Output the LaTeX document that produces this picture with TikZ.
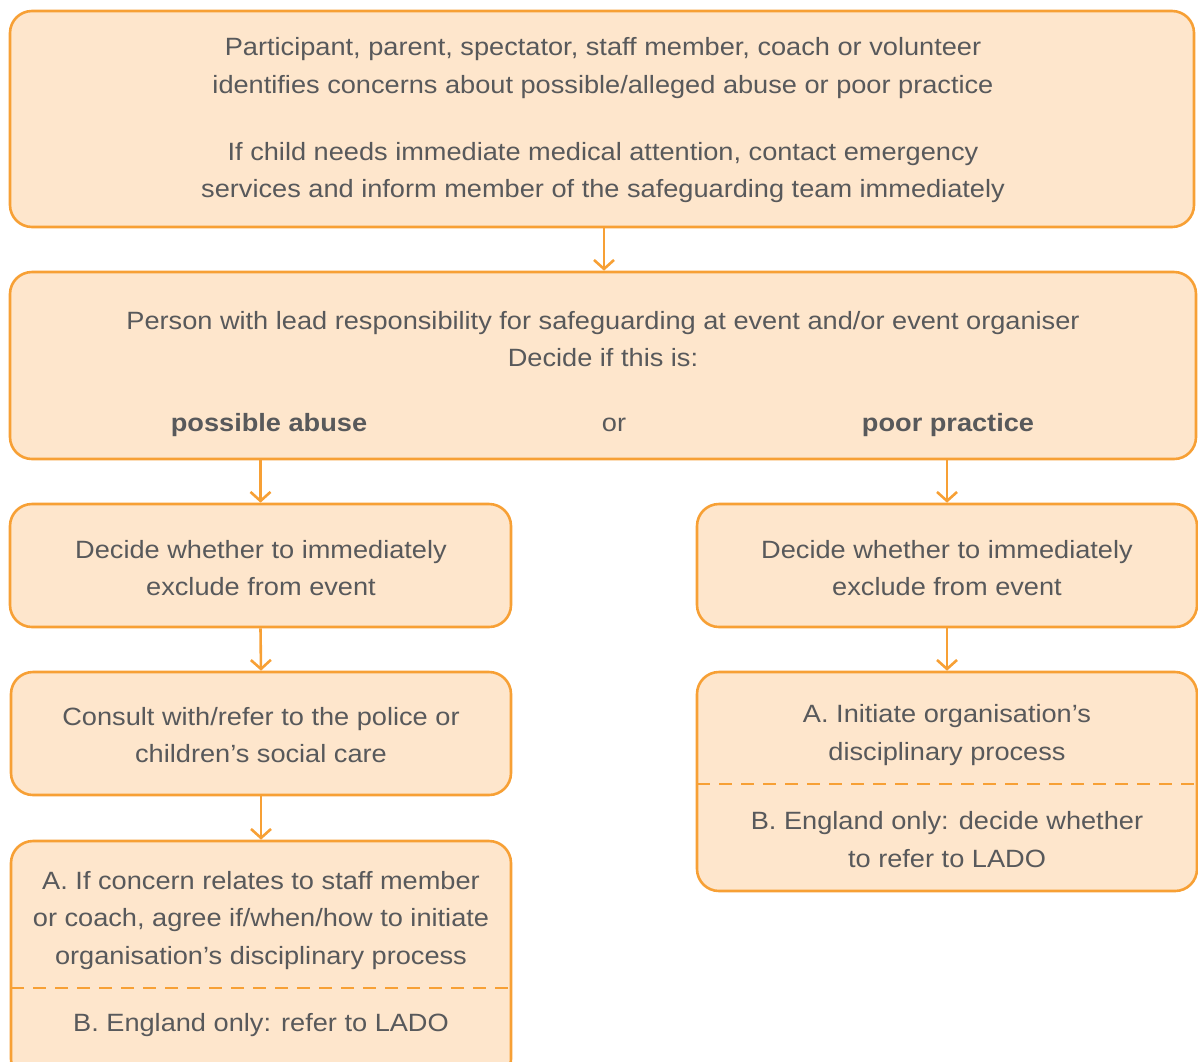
\documentclass[tikz,border=0pt]{standalone}
\usepackage{fontspec}
\setmainfont{Liberation Sans}[FakeStretch=1.087]
\usetikzlibrary{arrows.meta}
\definecolor{boxline}{HTML}{F7A035}
\definecolor{boxfill}{HTML}{FEE6CC}
\definecolor{txt}{HTML}{58595B}
\begin{document}
\begin{tikzpicture}[x=1pt,y=-1pt,
  flowbox/.style={draw=boxline,fill=boxfill,line width=2.6pt,rounded corners=22pt,inner sep=0pt},
  label/.style={text=txt,align=center,inner sep=0pt,font=\fontsize{25}{37.5}\selectfont},
  arr/.style={draw=boxline,line width=2.6pt,-{Straight Barb[length=9pt,width=20pt,line width=2.6pt]}},
  sep/.style={draw=boxline,line width=2.8pt,dash pattern=on 13pt off 9pt}]
\useasboundingbox (0,0) rectangle (1198,1061);
% boxes
\node[flowbox,minimum width=1184pt,minimum height=216pt] (b1) at (602,119) {};
\node[flowbox,minimum width=1186pt,minimum height=187pt] (b2) at (603,365.5) {};
\node[flowbox,minimum width=501pt,minimum height=123pt] (b3l) at (260.5,565.5) {};
\node[flowbox,minimum width=500pt,minimum height=123pt] (b3r) at (947,565.5) {};
\node[flowbox,minimum width=500pt,minimum height=123pt] (b4l) at (261,733.5) {};
\node[flowbox,minimum width=500pt,minimum height=219pt] (b4r) at (947,781.5) {};
\node[flowbox,minimum width=500pt,minimum height=240pt] (b5l) at (261,961) {};
% dashed separators
\coordinate (s4a) at (697,784); \coordinate (s4b) at (1197,784);
\coordinate (s5a) at (11,988); \coordinate (s5b) at (511,988);
\draw[sep] (s4a) -- (s4b);
\draw[sep] (s5a) -- (s5b);
% texts
\node[label] (t1a) at (603,68) {Participant, parent, spectator, staff member, coach or volunteer\\identifies concerns about possible/alleged abuse or poor practice};
\node[label] (t1b) at (603,172.5) {If child needs immediate medical attention, contact emergency\\services and inform member of the safeguarding team immediately};
\node[label] (t2a) at (603,339) {Person with lead responsibility for safeguarding at event and/or event organiser\\Decide if this is:};
\node[label,font=\fontsize{25}{37.5}\selectfont\bfseries] (t2b) at (269,425) {possible abuse};
\node[label] (t2c) at (614,425) {or};
\node[label,font=\fontsize{25}{37.5}\selectfont\bfseries] (t2d) at (948,425) {poor practice};
\node[label] (t3l) at (261,568) {Decide whether to immediately\\exclude from event};
\node[label] (t3r) at (947,568) {Decide whether to immediately\\exclude from event};
\node[label] (t4l) at (261,735) {Consult with/refer to the police or\\children’s social care};
\node[label] (t4ra) at (947,735) {A. Initiate organisation’s\\disciplinary process};
\node[label] (t4rb) at (947,839.5) {B. England only: decide whether\\to refer to LADO};
\node[label] (t5la) at (261,920.5) {A. If concern relates to staff member\\or coach, agree if/when/how to initiate\\organisation’s disciplinary process};
\node[label] (t5lb) at (261,1025) {B. England only: refer to LADO};
% connectors
\draw[arr] (b1.south -| 604,0) -- (b2.north -| 604,0);
\draw[arr] (b2.south -| b3l.north) -- (b3l.north);
\draw[arr] (b2.south -| b3r.north) -- (b3r.north);
\draw[arr] (b3l.south) -- (b4l.north);
\draw[arr] (b3r.south) -- (b4r.north);
\draw[arr] (b4l.south) -- (b5l.north);
\end{tikzpicture}
\end{document}
